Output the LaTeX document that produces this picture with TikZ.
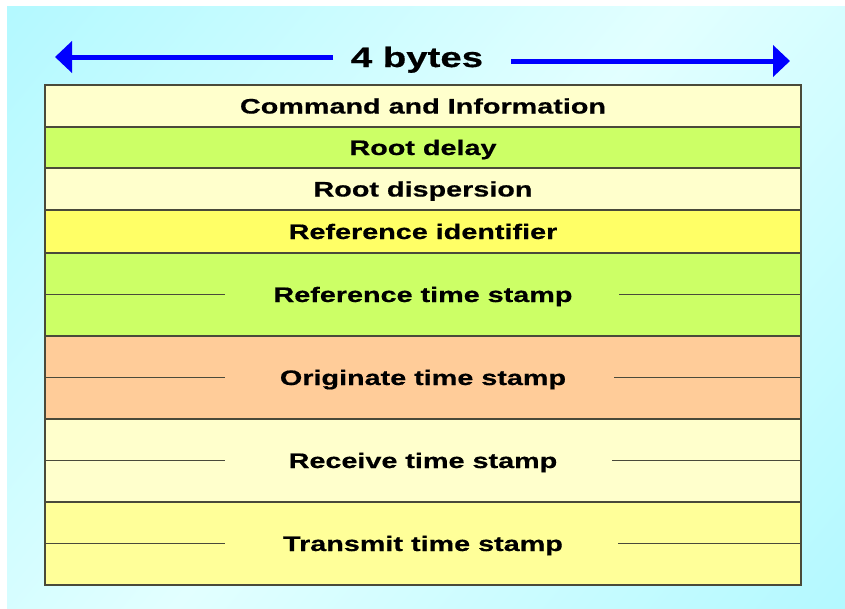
\documentclass[tikz,border=0pt]{standalone}
\usepackage{fontspec}
\setmainfont{Liberation Sans}
\newfontfamily\widefont[FakeStretch=1.37,FakeBold=0.6]{Liberation Sans}
\usetikzlibrary{arrows.meta}
\definecolor{bgc}{HTML}{A0F6FF}
\definecolor{bgm}{HTML}{E2FFFF}
\definecolor{rowpale}{HTML}{FFFFCC}
\definecolor{rowgreen}{HTML}{CCFF66}
\definecolor{rowyellow}{HTML}{FFFF66}
\definecolor{rowpeach}{HTML}{FFCC99}
\definecolor{rowlight}{HTML}{FFFF99}
\definecolor{edgec}{HTML}{4A4A3A}
\definecolor{arrowblue}{HTML}{0000FF}
\pgfdeclarehorizontalshading{bgshade}{100bp}{color(0bp)=(bgc); color(50bp)=(bgm); color(100bp)=(bgc)}
\begin{document}
\begin{tikzpicture}[x=1pt,y=-1pt,
  row/.style={draw=edgec, line width=1.3pt, rectangle, inner sep=0pt,
    minimum width=756pt, text height=15pt, text depth=0pt,
    font=\widefont\bfseries\fontsize{21}{25}\selectfont},
  single/.style={row, minimum height=42pt},
  double/.style={row, minimum height=83pt},
  half/.style={draw=edgec, line width=1.4pt},
  bigarrow/.style={draw=arrowblue, line width=5pt, -{Triangle[length=17pt,width=31pt]}}]
\useasboundingbox (0,0) rectangle (845,608);
\fill[white] (0,0) rectangle (845,608);
\shade[shading=bgshade, shading angle=-40] (7,6) rectangle (845,608);
% title and arrows
\node[font=\widefont\bfseries\fontsize{28}{32}\selectfont, text height=20pt, text depth=0pt, inner sep=0pt] (bytes) at (417,57) {4 bytes};
\coordinate (ltip) at (55,57);
\coordinate (lstart) at (333,57);
\coordinate (rstart) at (511,61);
\coordinate (rtip) at (790,61);
\draw[bigarrow] (lstart) -- (ltip);
\draw[bigarrow] (rstart) -- (rtip);
% rows
\node[single, fill=rowpale, minimum height=42pt] (cmd) at (423,106) {Command and Information};
\node[single, fill=rowgreen, minimum height=41pt] (delay) at (423,147.5) {Root delay};
\node[single, fill=rowpale, minimum height=42pt] (disp) at (423,189) {Root dispersion};
\node[single, fill=rowyellow, minimum height=43pt] (refid) at (423,231.5) {Reference identifier};
\node[double, fill=rowgreen] (refts) at (423,294.5) {Reference time stamp};
\node[double, fill=rowpeach] (orig) at (423,377.5) {Originate time stamp};
\node[double, fill=rowpale] (recv) at (423,460.5) {Receive time stamp};
\node[double, fill=rowlight] (xmit) at (423,543.5) {Transmit time stamp};
% half-lines inside 8-byte rows
\draw[half] (refts.west) -- ++(181,0);
\draw[half] (refts.east) -- ++(-183,0);
\draw[half] (orig.west) -- ++(181,0);
\draw[half] (orig.east) -- ++(-188,0);
\draw[half] (recv.west) -- ++(181,0);
\draw[half] (recv.east) -- ++(-190,0);
\draw[half] (xmit.west) -- ++(181,0);
\draw[half] (xmit.east) -- ++(-184,0);
\end{tikzpicture}
\end{document}
